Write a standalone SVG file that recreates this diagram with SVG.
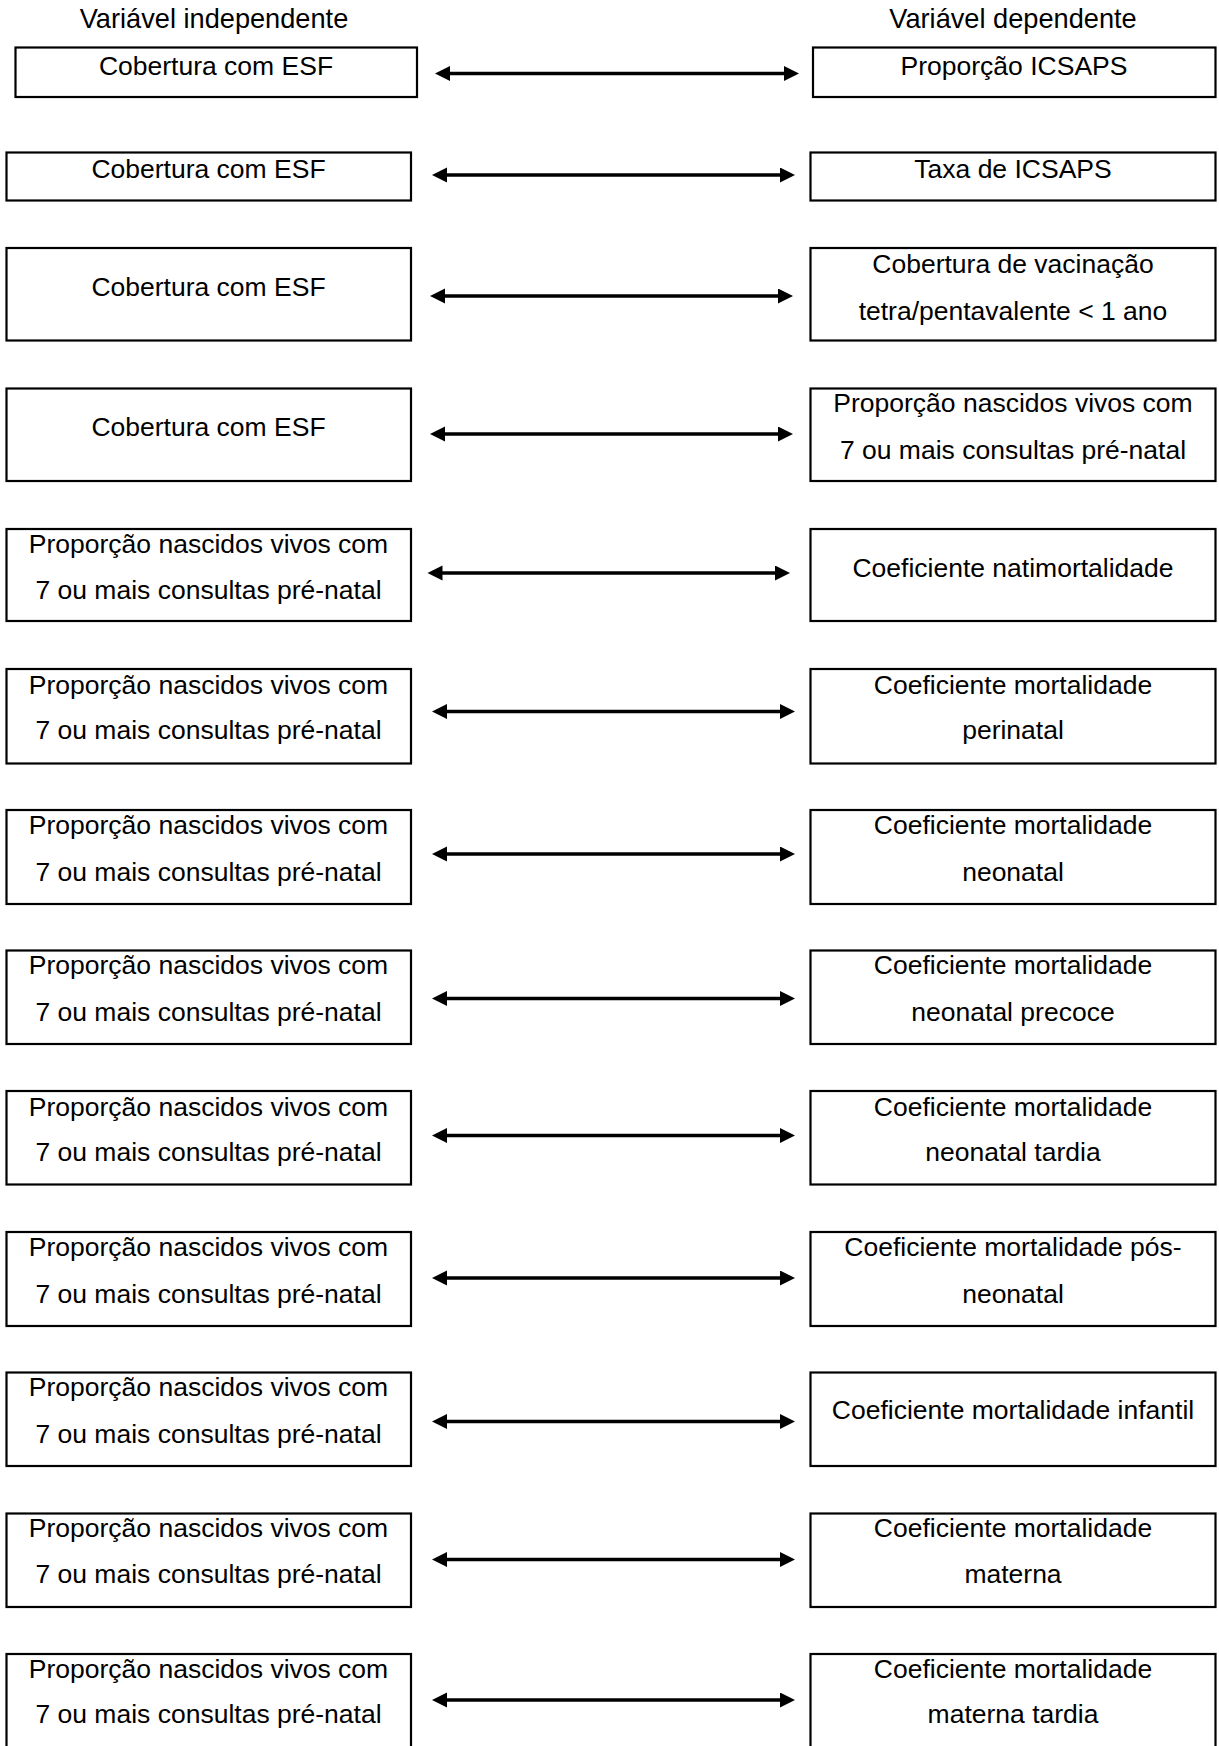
<svg xmlns="http://www.w3.org/2000/svg" width="1219" height="1746" viewBox="0 0 1219 1746">
<style>
.box{fill:#fff;stroke:#000;stroke-width:2.2}
.t{font-family:"Liberation Sans",Arial,sans-serif;font-size:26.5px;fill:#000;text-anchor:middle}
.h{font-size:27.2px}
.c{stroke:#000;stroke-width:3.6;fill:none;marker-start:url(#ah);marker-end:url(#ah)}
</style>
<defs>
<marker id="ah" markerUnits="userSpaceOnUse" markerWidth="16" markerHeight="16" refX="5" refY="7.5" orient="auto-start-reverse">
<path d="M0,0 L15,7.5 L0,15 z" fill="#000"/>
</marker>
</defs>
<rect width="1219" height="1746" fill="#fff"/>
<g id="titles">
<text class="t h" x="214" y="28">Variável independente</text>
<text class="t h" x="1013" y="28">Variável dependente</text>
</g>
<g id="connectors">
<line class="c" x1="445" y1="73.5" x2="789" y2="73.5"/>
<line class="c" x1="442" y1="175" x2="785" y2="175"/>
<line class="c" x1="440" y1="296" x2="783" y2="296"/>
<line class="c" x1="440" y1="434" x2="783" y2="434"/>
<line class="c" x1="437.5" y1="573" x2="780" y2="573"/>
<line class="c" x1="442" y1="711.5" x2="785" y2="711.5"/>
<line class="c" x1="442" y1="854" x2="785" y2="854"/>
<line class="c" x1="442" y1="998.5" x2="785" y2="998.5"/>
<line class="c" x1="442" y1="1135.5" x2="785" y2="1135.5"/>
<line class="c" x1="442" y1="1278" x2="785" y2="1278"/>
<line class="c" x1="442" y1="1421.5" x2="785" y2="1421.5"/>
<line class="c" x1="442" y1="1559.5" x2="785" y2="1559.5"/>
<line class="c" x1="442" y1="1700" x2="785" y2="1700"/>
</g>
<g id="l1"><rect class="box" x="15.5" y="47.5" width="401.5" height="49.5"/><text class="t" x="216" y="75">Cobertura com ESF</text></g>
<g id="r1"><rect class="box" x="813" y="47.5" width="402.5" height="49.5"/><text class="t" x="1014" y="75">Proporção ICSAPS</text></g>
<g id="l2"><rect class="box" x="6.5" y="152.5" width="404.5" height="48"/><text class="t" x="208.5" y="178">Cobertura com ESF</text></g>
<g id="r2"><rect class="box" x="810.5" y="152.5" width="405" height="48"/><text class="t" x="1013" y="178">Taxa de ICSAPS</text></g>
<g id="l3"><rect class="box" x="6.5" y="248" width="404.5" height="92.5"/><text class="t" x="208.5" y="296">Cobertura com ESF</text></g>
<g id="r3"><rect class="box" x="810.5" y="248" width="405" height="92.5"/><text class="t" x="1013" y="273">Cobertura de vacinação</text><text class="t" x="1013" y="319.5">tetra/pentavalente &lt; 1 ano</text></g>
<g id="l4"><rect class="box" x="6.5" y="388.5" width="404.5" height="92.5"/><text class="t" x="208.5" y="436">Cobertura com ESF</text></g>
<g id="r4"><rect class="box" x="810.5" y="388.5" width="405" height="92.5"/><text class="t" x="1013" y="412">Proporção nascidos vivos com</text><text class="t" x="1013" y="458.5">7 ou mais consultas pré-natal</text></g>
<g id="l5"><rect class="box" x="6.5" y="529" width="404.5" height="92"/><text class="t" x="208.5" y="553">Proporção nascidos vivos com</text><text class="t" x="208.5" y="599">7 ou mais consultas pré-natal</text></g>
<g id="r5"><rect class="box" x="810.5" y="529" width="405" height="92"/><text class="t" x="1013" y="576.5">Coeficiente natimortalidade</text></g>
<g id="l6"><rect class="box" x="6.5" y="669" width="404.5" height="94.5"/><text class="t" x="208.5" y="693.5">Proporção nascidos vivos com</text><text class="t" x="208.5" y="739">7 ou mais consultas pré-natal</text></g>
<g id="r6"><rect class="box" x="810.5" y="669" width="405" height="94.5"/><text class="t" x="1013" y="693.5">Coeficiente mortalidade</text><text class="t" x="1013" y="739">perinatal</text></g>
<g id="l7"><rect class="box" x="6.5" y="810" width="404.5" height="94"/><text class="t" x="208.5" y="834">Proporção nascidos vivos com</text><text class="t" x="208.5" y="880.5">7 ou mais consultas pré-natal</text></g>
<g id="r7"><rect class="box" x="810.5" y="810" width="405" height="94"/><text class="t" x="1013" y="834">Coeficiente mortalidade</text><text class="t" x="1013" y="880.5">neonatal</text></g>
<g id="l8"><rect class="box" x="6.5" y="950.5" width="404.5" height="93.5"/><text class="t" x="208.5" y="974">Proporção nascidos vivos com</text><text class="t" x="208.5" y="1021">7 ou mais consultas pré-natal</text></g>
<g id="r8"><rect class="box" x="810.5" y="950.5" width="405" height="93.5"/><text class="t" x="1013" y="974">Coeficiente mortalidade</text><text class="t" x="1013" y="1021">neonatal precoce</text></g>
<g id="l9"><rect class="box" x="6.5" y="1091" width="404.5" height="93.5"/><text class="t" x="208.5" y="1115.5">Proporção nascidos vivos com</text><text class="t" x="208.5" y="1161">7 ou mais consultas pré-natal</text></g>
<g id="r9"><rect class="box" x="810.5" y="1091" width="405" height="93.5"/><text class="t" x="1013" y="1115.5">Coeficiente mortalidade</text><text class="t" x="1013" y="1161">neonatal tardia</text></g>
<g id="l10"><rect class="box" x="6.5" y="1232" width="404.5" height="94"/><text class="t" x="208.5" y="1256">Proporção nascidos vivos com</text><text class="t" x="208.5" y="1302.5">7 ou mais consultas pré-natal</text></g>
<g id="r10"><rect class="box" x="810.5" y="1232" width="405" height="94"/><text class="t" x="1013" y="1256">Coeficiente mortalidade pós-</text><text class="t" x="1013" y="1302.5">neonatal</text></g>
<g id="l11"><rect class="box" x="6.5" y="1372.5" width="404.5" height="93.5"/><text class="t" x="208.5" y="1396">Proporção nascidos vivos com</text><text class="t" x="208.5" y="1443">7 ou mais consultas pré-natal</text></g>
<g id="r11"><rect class="box" x="810.5" y="1372.5" width="405" height="93.5"/><text class="t" x="1013" y="1419">Coeficiente mortalidade infantil</text></g>
<g id="l12"><rect class="box" x="6.5" y="1513.5" width="404.5" height="93.5"/><text class="t" x="208.5" y="1537">Proporção nascidos vivos com</text><text class="t" x="208.5" y="1583">7 ou mais consultas pré-natal</text></g>
<g id="r12"><rect class="box" x="810.5" y="1513.5" width="405" height="93.5"/><text class="t" x="1013" y="1537">Coeficiente mortalidade</text><text class="t" x="1013" y="1583">materna</text></g>
<g id="l13"><rect class="box" x="6.5" y="1654" width="404.5" height="96"/><text class="t" x="208.5" y="1677.5">Proporção nascidos vivos com</text><text class="t" x="208.5" y="1723">7 ou mais consultas pré-natal</text></g>
<g id="r13"><rect class="box" x="810.5" y="1654" width="405" height="96"/><text class="t" x="1013" y="1677.5">Coeficiente mortalidade</text><text class="t" x="1013" y="1723">materna tardia</text></g>
</svg>
